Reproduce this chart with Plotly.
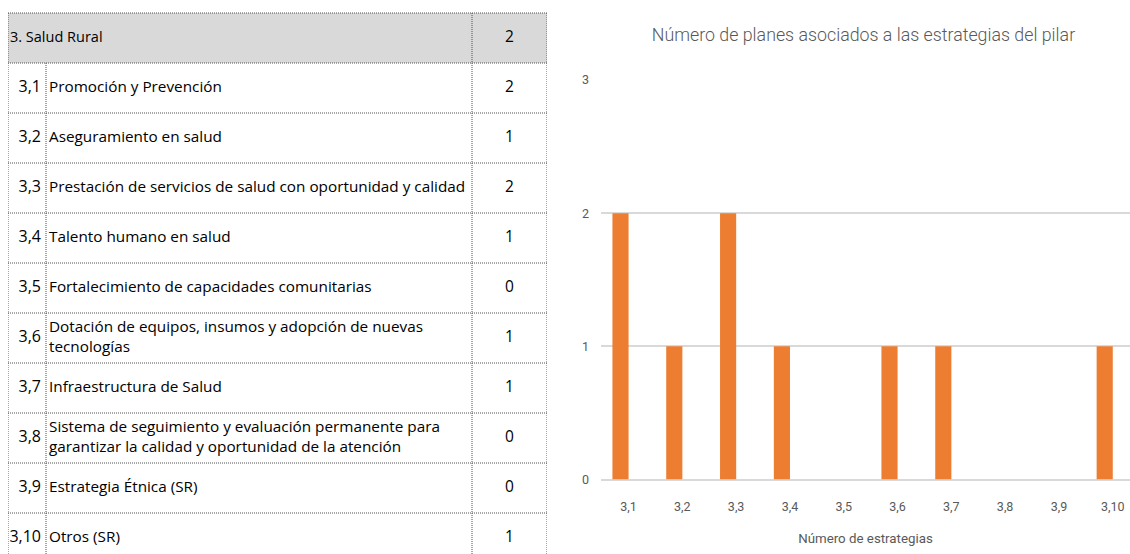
import plotly.graph_objects as go

# ---- data ----
header_label = "3. Salud Rural"
header_count = 2
codes = ["3,1", "3,2", "3,3", "3,4", "3,5", "3,6", "3,7", "3,8", "3,9", "3,10"]
descriptions = [
    "Promoción y Prevención",
    "Aseguramiento en salud",
    "Prestación de servicios de salud con oportunidad y calidad",
    "Talento humano en salud",
    "Fortalecimiento de capacidades comunitarias",
    "Dotación de equipos, insumos y adopción de nuevas<br>tecnologías",
    "Infraestructura de Salud",
    "Sistema de seguimiento y evaluación permanente para<br>garantizar la calidad y oportunidad de la atención",
    "Estrategia Étnica (SR)",
    "Otros (SR)",
]
counts = [2, 1, 2, 1, 0, 1, 1, 0, 0, 1]
chart_title = "Número de planes asociados a las estrategias del pilar"
x_title = "Número de estrategias"
y_ticks = [0, 1, 2, 3]

# ---- layout constants (pixels) ----
W, H = 1130, 554
TABLE_L, TABLE_W = 8, 539
COL1, COL2 = 38, 464
TEXT_FONT = "Open Sans, sans-serif"
CHART_FONT = "Roboto, sans-serif"
GREY = "#595959"
BORDER = dict(color="#505050", width=1, dash="1px,1px")

n = len(codes)
rows = list(range(1, n + 1))

fig = go.Figure()

fig.add_trace(go.Bar(
    x=list(range(n)), y=counts, marker=dict(color="#ED7D31", line=dict(width=0)),
    xaxis="x", yaxis="y", showlegend=False, hovertext=codes, hoverinfo="text+y",
))

fig.add_trace(go.Scatter(
    x=[COL1 - 5] * n, y=rows, text=codes, mode="text",
    textposition="middle left",
    textfont=dict(family=TEXT_FONT, size=16, color="#000"),
    xaxis="x2", yaxis="y2", showlegend=False, hoverinfo="skip",
))
fig.add_trace(go.Scatter(
    x=[COL1 + 3] * n, y=rows, text=descriptions, mode="text",
    textposition="middle right",
    textfont=dict(family=TEXT_FONT, size=15.3, color="#000"),
    xaxis="x2", yaxis="y2", showlegend=False, hoverinfo="skip",
))
fig.add_trace(go.Scatter(
    x=[(COL2 + TABLE_W) / 2] * (n + 1), y=[0] + rows,
    text=[str(header_count)] + [str(c) for c in counts], mode="text",
    textposition="middle center",
    textfont=dict(family=TEXT_FONT, size=15.5, color="#000"),
    xaxis="x2", yaxis="y2", showlegend=False, hoverinfo="skip",
))
fig.add_trace(go.Scatter(
    x=[2], y=[0], text=[header_label], mode="text",
    textposition="middle right",
    textfont=dict(family=TEXT_FONT, size=14.5, color="#000"),
    xaxis="x2", yaxis="y2", showlegend=False, hoverinfo="skip",
))

shapes = [dict(type="rect", xref="x2", yref="y2", x0=0, x1=TABLE_W, y0=-0.5, y1=0.5,
               fillcolor="#D9D9D9", line=dict(width=0), layer="below")]
for k in range(n + 2):
    shapes.append(dict(type="line", xref="x2", yref="y2", x0=0, x1=TABLE_W,
                       y0=k - 0.5, y1=k - 0.5, line=BORDER))
for xv, ystart in [(0, -0.5), (TABLE_W, -0.5), (COL2, -0.5), (COL1, 0.5)]:
    shapes.append(dict(type="line", xref="x2", yref="y2", x0=xv, x1=xv,
                       y0=ystart, y1=n + 0.5, line=BORDER))

fig.update_layout(
    width=W, height=H,
    margin=dict(l=0, r=0, t=0, b=0, autoexpand=False),
    paper_bgcolor="white", plot_bgcolor="white",
    bargap=0.70,
    shapes=shapes,
    title=dict(text=chart_title, x=863.5 / W, xanchor="center", xref="paper",
               y=1 - 35 / H, yanchor="middle", yref="paper", automargin=False,
               font=dict(family=CHART_FONT, size=17.8, color=GREY, weight=300)),
    xaxis=dict(domain=[601 / W, 1], range=[-0.3625, 9.47],
               tickvals=list(range(n)), ticktext=codes,
               showgrid=False, zeroline=False, showline=False, automargin=False,
               ticks="", ticklabelstandoff=18, ticklabelshift=8,
               tickfont=dict(family=CHART_FONT, size=12.5, color=GREY),
               title=dict(text=x_title, standoff=20,
                          font=dict(family=CHART_FONT, size=13.3, color=GREY))),
    yaxis=dict(domain=[(H - 479.5) / H, (H - 80) / H], range=[0, 3],
               automargin=False,
               tickvals=y_ticks, showgrid=True, gridcolor="#D9D9D9", gridwidth=1.5,
               zeroline=True, zerolinecolor="#D9D9D9", zerolinewidth=1.5,
               showline=False, ticks="", ticklabelstandoff=11,
               tickfont=dict(family=CHART_FONT, size=12.5, color=GREY)),
    xaxis2=dict(domain=[TABLE_L / W, (TABLE_L + TABLE_W) / W], range=[0, TABLE_W],
                visible=False, fixedrange=True),
    yaxis2=dict(domain=[0, 1], range=[10.32, -0.76], visible=False, fixedrange=True),
)

fig.write_html("out.html", config={"displayModeBar": False},
               post_script="document.body.style.margin='0';")
